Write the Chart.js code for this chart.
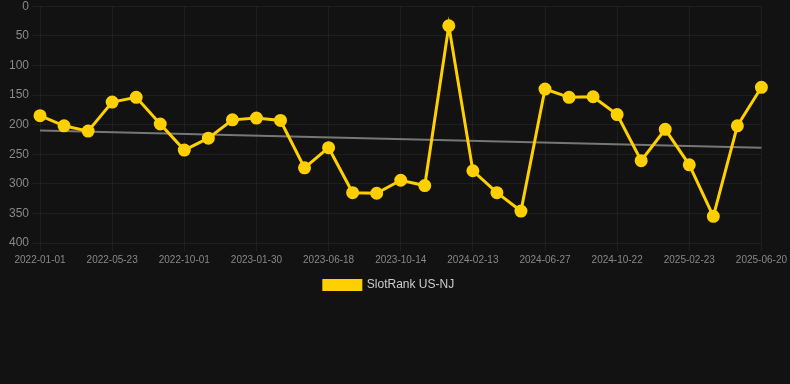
<!DOCTYPE html>
<html>
<head>
<meta charset="utf-8">
<script src="https://cdn.jsdelivr.net/npm/chart.js@4/dist/chart.umd.min.js"></script>
<style>
  html, body { margin: 0; padding: 0; background: #121212; overflow: hidden; }
  #wrap { width: 790px; height: 305px; position: relative; margin-top: -4px; }
</style>
</head>
<body>
<div id="wrap"><canvas id="c"></canvas></div>
<script>
const dates = [
  '2022-01-01','2022-02-17','2022-04-05','2022-05-23','2022-07-05','2022-08-18','2022-10-01',
  '2022-11-10','2022-12-20','2023-01-30','2023-03-17','2023-05-02','2023-06-18','2023-07-27',
  '2023-09-04','2023-10-14','2023-11-23','2024-01-03','2024-02-13','2024-03-29','2024-05-13',
  '2024-06-27','2024-08-04','2024-09-13','2024-10-22','2024-12-03','2025-01-12','2025-02-23',
  '2025-04-01','2025-05-11','2025-06-20'
];
const rankValues = [
  185, 202, 211, 162, 154, 199, 243, 223, 192, 189, 193, 273, 239, 315, 316, 294,
  303, 33, 278, 315, 346, 140, 154, 153, 183, 261, 208, 268, 355, 202, 137
];
const trendStart = 210;
const trendEnd = 239;
const yTicks = [0, 50, 100, 150, 200, 250, 300, 350, 400];
const seriesName = 'SlotRank US-NJ';

const trendData = dates.map((d, i) => i === 0 ? trendStart : (i === dates.length - 1 ? trendEnd : null));

const legendShift = {
  id: 'legendShift',
  beforeDraw(chart) {
    const lg = chart.legend;
    if (lg && !lg._shifted) { lg.left -= 9; lg.right -= 9; lg._shifted = true; }
  }
};

const font = { family: '"Liberation Sans", Arial, Helvetica, sans-serif' };
new Chart(document.getElementById('c'), {
  type: 'line',
  plugins: [legendShift],
  data: {
    labels: dates,
    datasets: [
      {
        label: seriesName,
        data: rankValues,
        borderColor: '#FFD000',
        backgroundColor: '#FFD000',
        borderWidth: 3,
        pointRadius: 5,
        pointHoverRadius: 5,
        pointBackgroundColor: '#FFD000',
        pointBorderColor: '#FFD000',
        tension: 0,
        order: 1
      },
      {
        label: 'trend',
        data: trendData,
        spanGaps: true,
        borderColor: '#777777',
        borderWidth: 2,
        pointRadius: 0,
        pointHoverRadius: 0,
        fill: false,
        order: 2
      }
    ]
  },
  options: {
    responsive: true,
    maintainAspectRatio: false,
    animation: false,
    layout: { padding: { left: 6, top: 0, right: 0, bottom: 0 } },
    plugins: {
      legend: {
        position: 'bottom',
        labels: {
          color: '#cccccc',
          boxWidth: 37,
          boxHeight: 9,
          font: { ...font, size: 12 },
          filter: (item) => item.text === seriesName
        }
      },
      tooltip: { enabled: false }
    },
    scales: {
      x: {
        type: 'category',
        offset: false,
        grid: { color: 'rgba(255,255,255,0.05)' },
        border: { display: false },
        ticks: {
          color: '#888888',
          font: { ...font, size: 10 },
          autoSkip: true,
          maxTicksLimit: 11,
          maxRotation: 0
        }
      },
      y: {
        reverse: true,
        min: 0,
        max: 400,
        afterBuildTicks: (axis) => { axis.ticks = yTicks.map(v => ({ value: v })); },
        grid: { color: 'rgba(255,255,255,0.05)' },
        border: { display: false },
        ticks: {
          color: '#888888',
          font: { ...font, size: 12 }
        }
      }
    }
  }
});
</script>
</body>
</html>
